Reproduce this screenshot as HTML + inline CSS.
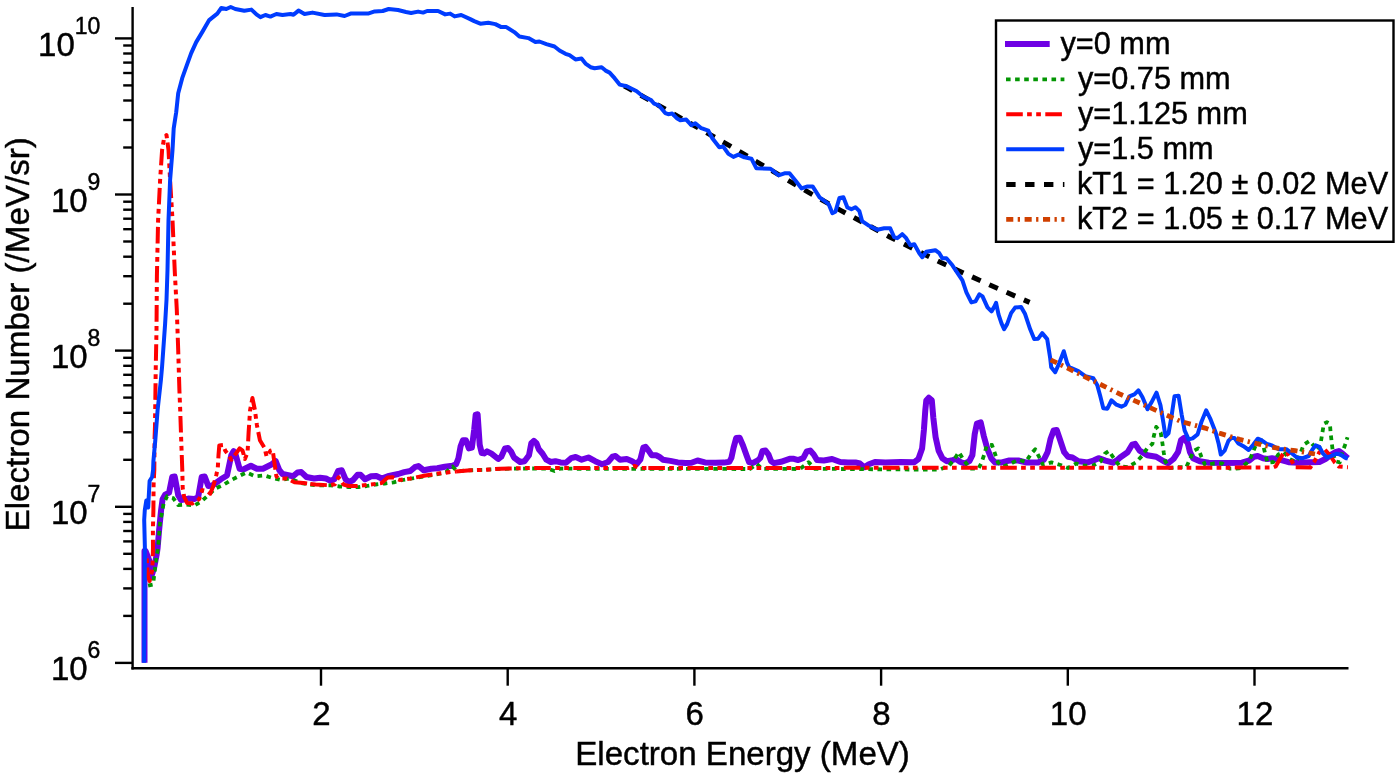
<!DOCTYPE html>
<html><head><meta charset="utf-8"><title>Electron spectrum</title>
<style>html,body{margin:0;padding:0;background:#fff;}svg{display:block;will-change:transform;}text{font-family:"Liberation Sans",sans-serif;fill:#000;stroke:#000;stroke-width:0.45px;}</style>
</head><body>
<svg width="1400" height="778" viewBox="0 0 1400 778">
<rect width="1400" height="778" fill="#ffffff"/>
<polyline fill="none" stroke="#000000" stroke-width="5" stroke-linejoin="round" stroke-dasharray="9.4 9.5" stroke-dashoffset="14.6" points="620.5,84.0 628.1,88.1 730.4,146.2 808.6,192.4 840.1,210.1 890.2,237.2 940.3,262.3 990.5,285.3 1029.6,302.4"/>
<polyline fill="none" stroke="#6E00E4" stroke-width="6" stroke-linejoin="round" stroke-linecap="butt" points="144.5,662.7 144.5,551.0 145.6,551.0 149.1,560.0 151.1,577.1 154.1,568.0 156.6,555.0 157.6,548.0 159.1,530.2 161.1,510.1 162.6,499.1 165.1,494.6 169.1,492.6 172.2,477.0 174.7,476.5 178.2,495.1 181.2,500.1 188.2,498.6 194.2,499.1 198.2,497.1 201.7,477.0 204.7,476.5 208.3,486.0 212.3,485.5 220.8,479.3 227.0,475.5 231.3,455.2 233.6,451.1 235.8,455.2 239.6,468.7 243.3,469.5 250.9,465.7 256.9,468.7 262.9,468.7 271.9,464.2 275.7,461.2 279.4,470.3 282.5,474.0 293.0,476.3 297.5,472.5 301.3,472.1 306.5,477.0 314.0,478.5 320.1,477.8 326.0,478.5 330.5,480.8 334.3,479.3 338.1,471.0 341.8,470.3 345.6,479.3 349.3,482.0 353.1,480.0 357.6,474.8 360.6,474.8 365.1,479.3 371.1,476.3 376.4,476.0 381.7,478.5 387.7,476.3 398.2,474.0 404.2,472.1 410.3,471.0 414.8,467.2 418.5,466.0 423.8,470.3 431.3,468.7 437.3,468.3 444.8,466.8 452.4,465.7 456.1,464.2 458.4,458.2 460.6,446.2 462.9,440.2 465.9,440.2 468.9,448.4 471.9,447.7 474.2,429.6 475.7,414.6 477.6,414.3 479.7,444.7 481.7,453.0 484.0,453.4 487.0,451.4 491.5,453.7 498.2,459.0 501.3,456.7 505.0,448.4 508.0,448.0 511.0,451.4 514.0,457.5 520.1,462.0 524.5,461.2 529.0,455.2 531.3,443.2 533.8,440.9 536.5,443.2 538.8,449.2 542.6,453.7 546.3,459.7 550.8,462.0 555.4,461.2 560.6,462.4 565.9,462.7 571.1,458.2 575.7,457.0 581.7,459.7 588.4,457.5 595.2,461.2 602.0,464.2 608.0,462.0 612.5,456.7 615.5,456.0 620.0,459.7 626.8,459.0 632.1,461.2 636.6,464.2 640.3,459.7 643.3,447.7 645.6,446.9 648.6,450.7 651.6,455.2 656.1,455.2 659.1,456.7 662.9,459.7 670.4,460.9 677.9,462.4 685.5,463.0 691.5,462.7 697.5,460.5 705.0,462.4 715.5,462.7 724.1,462.6 729.3,461.8 731.4,457.9 733.6,447.6 736.2,438.1 739.6,437.7 743.1,445.8 746.5,455.3 749.1,462.2 752.5,463.1 757.7,460.5 760.3,457.9 762.4,451.0 765.5,450.6 768.5,454.5 771.1,461.3 774.1,463.1 781.0,461.8 789.6,458.8 793.9,458.8 798.2,460.1 803.4,457.9 806.8,451.4 810.2,450.6 813.7,454.5 817.1,460.1 823.8,460.5 832.1,459.0 840.3,462.0 847.9,462.4 855.4,462.4 859.9,463.5 864.4,467.2 868.9,464.2 874.9,462.0 885.5,462.4 900.5,462.0 914.0,462.3 918.4,459.0 922.1,448.5 923.9,430.0 925.3,410.1 926.3,400.5 928.8,397.7 931.8,400.3 933.3,417.6 935.6,437.2 938.6,450.7 942.3,458.2 946.9,461.2 951.4,460.5 955.9,459.0 960.4,462.0 964.9,463.5 969.4,461.2 972.4,455.2 974.7,434.2 976.9,423.6 980.7,422.4 983.7,435.7 987.5,449.2 991.2,458.2 995.0,462.4 1001.8,462.4 1009.3,460.5 1018.3,460.5 1025.8,462.4 1037.9,462.4 1043.9,459.7 1047.6,452.2 1050.6,438.7 1053.7,430.4 1056.7,429.9 1059.7,438.7 1064.2,452.2 1067.9,456.7 1072.5,457.5 1078.5,461.2 1087.5,462.4 1093.5,460.5 1098.5,458.2 1105.5,460.7 1113.1,462.7 1117.6,459.7 1120.1,457.5 1127.6,452.2 1132.1,444.7 1135.1,443.9 1139.6,450.7 1147.2,455.2 1156.2,456.7 1163.7,461.2 1168.2,463.2 1173.5,459.0 1178.0,452.2 1181.0,440.2 1184.0,437.9 1187.8,443.2 1190.0,452.2 1193.0,458.2 1199.8,461.2 1208.8,462.7 1225.4,463.0 1241.9,462.7 1249.4,460.5 1254.0,456.7 1257.7,456.0 1263.0,458.2 1267.5,459.0 1272.0,458.2 1279.5,459.7 1288.6,462.2 1298.3,462.7 1310.3,462.3 1319.4,462.0 1325.4,459.0 1331.4,454.5 1335.2,452.2 1338.9,451.1 1342.7,453.7 1347.9,458.2"/>
<polyline fill="none" stroke="#039603" stroke-width="3.8" stroke-linejoin="round" stroke-dasharray="4.6 4.5" points="148.1,585.6 153.1,584.6 154.1,576.1 156.0,560.0 158.1,548.0 160.1,522.2 162.1,512.1 163.6,503.6 167.1,496.3 173.2,498.1 178.2,505.1 186.2,504.6 194.2,505.6 201.7,501.1 208.3,495.1 215.3,488.6 223.3,485.0 230.3,480.5 238.3,476.5 246.4,472.5 255.4,476.3 264.4,475.5 271.9,477.8 281.0,480.0 290.0,478.5 300.5,483.0 315.5,485.3 330.5,485.3 339.6,486.5 348.6,487.1 358.4,487.1 366.6,486.0 375.7,484.5 384.7,483.5 393.7,482.3 402.7,480.0 411.8,478.5 425.3,476.3 438.8,474.0 446.4,471.8 452.4,466.5 457.0,471.2 470.4,470.3 485.5,469.8 500.5,468.9 515.5,468.6 530.0,468.5 548.0,468.7 554.6,471.0 560.0,468.7 750.0,469.0 756.8,463.9 762.0,468.8 800.0,469.0 808.5,462.2 815.0,468.8 910.0,469.5 940.1,469.5 949.1,465.7 954.4,459.0 958.9,452.2 963.4,459.7 970.2,468.7 978.4,468.7 981.5,462.7 984.5,453.7 986.7,445.4 992.0,445.0 995.0,453.7 998.0,462.7 1003.3,466.5 1010.8,463.5 1018.3,459.7 1025.8,462.0 1031.1,453.7 1035.2,449.2 1039.4,457.5 1043.1,465.0 1051.4,462.4 1060.4,465.0 1067.9,468.0 1076.2,463.5 1084.5,465.7 1092.8,465.7 1100.4,461.6 1104.9,453.7 1109.0,451.0 1111.8,455.2 1114.7,459.4 1119.6,466.0 1127.6,467.2 1135.9,462.4 1141.9,456.0 1147.2,448.4 1152.4,443.9 1153.9,435.7 1156.2,426.9 1160.7,432.6 1162.2,441.7 1163.7,452.2 1165.2,461.2 1169.7,468.0 1177.2,467.2 1186.3,467.2 1190.0,459.0 1193.8,450.7 1198.3,448.4 1201.3,456.7 1205.1,465.0 1213.3,463.5 1222.4,463.5 1229.9,468.7 1238.9,468.4 1246.4,463.5 1251.0,456.7 1254.7,447.7 1259.6,436.4 1263.0,444.7 1265.2,453.7 1267.5,462.7 1273.5,462.0 1278.3,454.5 1284.0,452.2 1289.7,459.0 1296.0,462.0 1300.6,453.0 1303.6,444.7 1309.6,440.9 1314.9,447.0 1318.0,450.0 1320.9,441.7 1322.4,432.6 1323.9,423.6 1326.9,422.1 1329.9,423.6 1330.6,432.6 1331.7,442.4 1332.9,452.2 1335.2,461.2 1339.7,462.4 1341.9,453.7 1344.9,445.4 1347.5,437.2"/>
<polyline fill="none" stroke="#FF0000" stroke-width="4" stroke-linejoin="round" stroke-dasharray="16.6 4.3 4.7 4.4 4.7 4.4" stroke-dashoffset="27.6" points="146.6,556.0 147.1,564.1 147.6,575.1 149.6,581.1 151.9,571.6 152.6,562.6 153.0,548.0 152.9,530.2 153.4,510.1 153.6,484.0 154.3,470.0 154.6,437.2 155.0,426.0 155.7,370.3 156.5,330.0 156.9,276.0 158.1,220.3 160.1,180.2 162.1,150.0 164.1,138.0 166.5,135.0 168.5,150.0 170.1,180.0 172.5,220.0 174.8,272.0 176.8,310.0 178.2,350.0 179.4,390.0 180.2,410.0 181.2,440.2 182.3,470.0 182.7,488.1 184.2,497.1 187.2,503.1 192.2,503.6 199.2,499.1 202.2,490.1 207.3,491.1 210.3,493.6 213.3,486.0 216.3,475.0 217.8,468.0 218.5,455.2 219.3,445.4 223.0,445.0 225.3,450.7 228.3,454.5 231.3,459.7 235.8,453.7 239.6,448.4 242.6,450.7 244.9,459.0 247.6,452.2 248.6,432.6 250.1,410.1 252.4,398.0 254.9,410.0 256.9,425.1 259.9,440.2 264.4,447.7 266.7,456.7 270.4,450.7 272.7,450.0 274.2,461.2 276.4,476.3 279.4,478.5 287.0,478.5 294.5,482.3 303.5,483.0 310.3,483.9"/>
<polyline fill="none" stroke="#FF0000" stroke-width="4" stroke-linejoin="round" stroke-dasharray="16.6 4.3 4.7 4.4 4.7 4.4" points="310.3,483.9 315.5,484.5 330.0,485.3 334.8,484.3 338.6,477.3 343.6,484.6 348.6,486.0 357.6,486.0 371.1,484.5 381.7,483.0 387.7,477.4 392.2,477.2 399.7,480.0 410.3,478.5 425.3,475.5 440.3,473.3 455.4,471.5 456.1,471.4"/>
<polyline fill="none" stroke="#FF0000" stroke-width="4" stroke-linejoin="round" stroke-dasharray="16.6 4.3 4.7 4.4 4.7 4.4" points="456.1,471.4 470.4,470.3 485.5,469.8 500.5,468.7 515.5,468.3 530.0,468.0 628.0,468.0 634.3,466.0 640.0,468.0 648.3,468.0"/>
<polyline fill="none" stroke="#FF0000" stroke-width="4" stroke-linejoin="round" stroke-dasharray="16.6 4.3 4.7 4.4 4.7 4.4" points="648.3,468.0 1273.0,467.6 1275.7,466.5 1280.3,458.2 1284.0,452.2 1287.0,452.2 1292.3,462.0 1295.3,467.2 1310.3,467.5 1314.1,462.0 1319.4,452.2 1324.6,449.2 1329.9,455.2 1334.4,462.0 1338.9,466.5 1347.9,467.2"/>
<polyline fill="none" stroke="#003CFF" stroke-width="4" stroke-linejoin="round" points="144.1,662.7 144.9,548.0 144.2,520.0 144.8,510.0 146.3,500.5 148.2,507.5 148.6,499.0 149.6,481.0 152.1,477.0 153.1,470.0 153.4,461.2 155.3,440.2 157.6,410.1 160.9,380.0 162.1,366.3 165.1,324.0 166.5,300.0 167.5,270.0 168.5,220.3 170.1,180.2 172.5,150.1 173.7,128.4 176.2,112.3 178.2,93.3 182.2,78.2 187.2,64.2 191.2,53.1 196.2,42.1 202.2,32.1 209.2,20.1 217.3,13.6 221.3,8.0 226.3,9.0 230.7,7.0 235.3,9.0 244.3,10.8 251.4,9.6 256.4,14.4 260.4,17.2 265.4,15.0 270.4,16.6 276.4,14.0 282.5,15.0 290.5,14.0 293.5,14.8 298.5,10.6 304.5,14.0 312.5,12.6 324.6,15.0 336.6,14.4 344.6,16.0 350.6,13.6 368.7,13.4 374.7,11.4 382.7,11.0 388.7,9.0 398.0,10.0 406.0,12.0 411.1,13.0 418.1,11.6 423.1,12.6 427.1,11.0 438.1,11.0 445.2,14.4 450.2,13.6 454.6,16.4 461.2,15.0 470.2,19.1 474.2,21.1 480.3,23.7 488.3,22.7 495.3,24.1 501.3,27.1 506.3,27.1 514.3,32.1 519.4,36.5 528.4,38.1 535.4,42.1 539.4,41.5 546.4,44.1 554.5,46.5 559.5,50.5 565.5,53.8 569.5,55.2 575.5,59.4 581.5,58.6 585.5,63.6 590.6,67.2 594.6,68.2 601.6,67.2 605.6,70.6 609.6,72.6 614.6,78.2 619.6,84.6 626.7,86.2 636.7,91.3 643.1,96.5 651.1,100.1 654.2,103.7 659.2,105.7 665.2,113.1 668.2,114.2 672.2,113.6 677.2,118.6 680.2,120.2 686.2,119.6 691.3,125.2 695.3,123.2 701.3,128.2 708.3,130.6 712.3,138.2 719.3,147.2 723.3,146.6 728.4,153.9 733.4,156.9 738.4,154.7 744.4,157.3 751.4,158.7 756.4,168.3 770.5,168.7 778.5,175.3 784.5,173.3 789.5,173.3 795.6,180.7 801.6,188.4 807.6,186.4 812.6,186.4 819.6,197.4 828.6,204.0 832.4,213.2 835.4,211.8 839.4,198.0 843.4,197.2 847.4,207.5 851.4,209.2 855.4,207.2 859.4,211.2 862.1,221.1 868.1,225.2 877.2,229.8 884.2,228.2 890.2,228.2 894.2,237.2 897.2,238.2 902.2,234.2 906.2,238.2 910.3,245.2 914.3,244.2 919.3,253.2 922.3,257.2 926.3,251.8 935.3,250.2 939.3,253.2 942.3,258.2 946.4,258.2 952.4,265.3 958.4,274.3 962.4,280.3 966.4,292.3 971.4,302.4 975.4,301.4 979.4,294.3 982.5,296.4 987.5,307.4 991.5,311.4 994.5,306.4 996.1,302.8 998.5,314.4 1001.5,323.4 1004.1,329.1 1007.1,324.1 1011.1,313.1 1015.1,307.6 1021.1,307.0 1025.1,314.1 1030.1,329.1 1034.2,339.1 1038.2,338.7 1042.2,333.1 1047.2,339.1 1050.2,358.2 1051.2,367.2 1055.2,372.2 1059.2,363.2 1063.8,351.2 1067.2,363.2 1069.2,367.2 1078.3,371.2 1085.3,376.2 1093.3,378.2 1097.3,385.3 1100.3,396.3 1103.3,408.3 1107.4,408.7 1111.4,400.3 1116.4,404.7 1121.4,406.7 1125.4,404.7 1129.4,396.3 1134.4,394.3 1138.4,390.3 1142.5,397.3 1147.5,409.3 1151.5,402.3 1156.5,392.7 1160.5,405.3 1163.5,423.4 1165.5,436.4 1168.5,433.4 1171.5,416.4 1174.5,396.3 1178.6,395.7 1181.6,414.3 1184.6,430.4 1188.6,439.4 1192.6,438.4 1197.6,434.4 1201.6,421.4 1206.2,410.3 1210.6,419.4 1215.7,432.4 1218.7,444.0 1220.8,454.5 1224.6,450.7 1228.4,440.9 1231.4,437.9 1234.4,437.9 1238.1,443.2 1243.4,446.2 1248.7,450.0 1253.2,444.7 1257.7,438.7 1261.4,440.2 1266.7,443.9 1272.0,445.4 1278.7,449.2 1286.3,449.2 1292.3,453.7 1296.8,457.5 1302.8,458.2 1308.8,456.0 1312.6,449.2 1315.6,445.4 1319.4,446.9 1323.1,453.7 1326.9,457.5 1331.4,456.0 1336.7,453.7 1340.4,454.5 1344.9,457.5 1347.9,458.5"/>
<polyline fill="none" stroke="#D04000" stroke-width="4.8" stroke-linejoin="round" stroke-dasharray="7.1 4.4 2.3 4.6" points="1050.6,359.8 1120.4,394.3 1180.6,421.4 1205.0,428.1 1220.1,433.4 1239.6,439.4 1257.7,443.9 1274.2,447.7 1295.3,450.7 1315.0,454.0"/>
<g stroke="#000" stroke-width="2.4" fill="none" stroke-linecap="butt">
<line x1="132.6" y1="7" x2="132.6" y2="669.4"/>
<line x1="131.4" y1="668.2" x2="1348.5" y2="668.2"/>
<line x1="115" y1="662.9" x2="132.6" y2="662.9"/>
<line x1="123.2" y1="615.9" x2="132.6" y2="615.9"/>
<line x1="123.2" y1="588.4" x2="132.6" y2="588.4"/>
<line x1="123.2" y1="568.9" x2="132.6" y2="568.9"/>
<line x1="123.2" y1="553.8" x2="132.6" y2="553.8"/>
<line x1="123.2" y1="541.4" x2="132.6" y2="541.4"/>
<line x1="123.2" y1="531.0" x2="132.6" y2="531.0"/>
<line x1="123.2" y1="521.9" x2="132.6" y2="521.9"/>
<line x1="123.2" y1="513.9" x2="132.6" y2="513.9"/>
<line x1="115" y1="506.8" x2="132.6" y2="506.8"/>
<line x1="123.2" y1="459.8" x2="132.6" y2="459.8"/>
<line x1="123.2" y1="432.3" x2="132.6" y2="432.3"/>
<line x1="123.2" y1="412.8" x2="132.6" y2="412.8"/>
<line x1="123.2" y1="397.6" x2="132.6" y2="397.6"/>
<line x1="123.2" y1="385.3" x2="132.6" y2="385.3"/>
<line x1="123.2" y1="374.8" x2="132.6" y2="374.8"/>
<line x1="123.2" y1="365.8" x2="132.6" y2="365.8"/>
<line x1="123.2" y1="357.8" x2="132.6" y2="357.8"/>
<line x1="115" y1="350.6" x2="132.6" y2="350.6"/>
<line x1="123.2" y1="303.7" x2="132.6" y2="303.7"/>
<line x1="123.2" y1="276.2" x2="132.6" y2="276.2"/>
<line x1="123.2" y1="256.7" x2="132.6" y2="256.7"/>
<line x1="123.2" y1="241.5" x2="132.6" y2="241.5"/>
<line x1="123.2" y1="229.2" x2="132.6" y2="229.2"/>
<line x1="123.2" y1="218.7" x2="132.6" y2="218.7"/>
<line x1="123.2" y1="209.7" x2="132.6" y2="209.7"/>
<line x1="123.2" y1="201.7" x2="132.6" y2="201.7"/>
<line x1="115" y1="194.5" x2="132.6" y2="194.5"/>
<line x1="123.2" y1="147.5" x2="132.6" y2="147.5"/>
<line x1="123.2" y1="120.0" x2="132.6" y2="120.0"/>
<line x1="123.2" y1="100.5" x2="132.6" y2="100.5"/>
<line x1="123.2" y1="85.4" x2="132.6" y2="85.4"/>
<line x1="123.2" y1="73.0" x2="132.6" y2="73.0"/>
<line x1="123.2" y1="62.6" x2="132.6" y2="62.6"/>
<line x1="123.2" y1="53.5" x2="132.6" y2="53.5"/>
<line x1="123.2" y1="45.5" x2="132.6" y2="45.5"/>
<line x1="115" y1="38.4" x2="132.6" y2="38.4"/>
<line x1="321.0" y1="668.2" x2="321.0" y2="685.7"/>
<line x1="507.7" y1="668.2" x2="507.7" y2="685.7"/>
<line x1="694.4" y1="668.2" x2="694.4" y2="685.7"/>
<line x1="881.1" y1="668.2" x2="881.1" y2="685.7"/>
<line x1="1067.8" y1="668.2" x2="1067.8" y2="685.7"/>
<line x1="1254.5" y1="668.2" x2="1254.5" y2="685.7"/>
</g>
<text x="321.4" y="724.7" font-size="33" text-anchor="middle">2</text>
<text x="508.1" y="724.7" font-size="33" text-anchor="middle">4</text>
<text x="694.8" y="724.7" font-size="33" text-anchor="middle">6</text>
<text x="881.5" y="724.7" font-size="33" text-anchor="middle">8</text>
<text x="1068.2" y="724.7" font-size="33" text-anchor="middle">10</text>
<text x="1254.9" y="724.7" font-size="33" text-anchor="middle">12</text>
<text x="100.4" y="680.3" font-size="33" text-anchor="end">10<tspan dy="-22" font-size="23">6</tspan></text>
<text x="100.4" y="524.2" font-size="33" text-anchor="end">10<tspan dy="-22" font-size="23">7</tspan></text>
<text x="100.4" y="368.0" font-size="33" text-anchor="end">10<tspan dy="-22" font-size="23">8</tspan></text>
<text x="100.4" y="211.9" font-size="33" text-anchor="end">10<tspan dy="-22" font-size="23">9</tspan></text>
<text x="100.4" y="55.8" font-size="33" text-anchor="end">10<tspan dy="-22" font-size="23">10</tspan></text>
<text x="742.6" y="765.4" font-size="33.1" text-anchor="middle">Electron Energy (MeV)</text>
<text transform="translate(29.4,334.3) rotate(-90)" font-size="33.17" text-anchor="middle">Electron Number (/MeV/sr)</text>
<rect x="996" y="20.5" width="397.5" height="221.3" fill="#fff" stroke="#000" stroke-width="2.4"/>
<line x1="1005" y1="44.1" x2="1049.7" y2="44.1" stroke="#6E00E4" stroke-width="6"/>
<line x1="1006" y1="79.3" x2="1064.4" y2="79.3" stroke="#039603" stroke-width="3.8" stroke-dasharray="4.6 4.5"/>
<line x1="1006.2" y1="114.3" x2="1062" y2="114.3" stroke="#FF0000" stroke-width="4" stroke-dasharray="16.6 4.3 4.7 4.4 4.7 4.4"/>
<line x1="1006.2" y1="149.2" x2="1064.2" y2="149.2" stroke="#003CFF" stroke-width="4"/>
<line x1="1006.2" y1="184.4" x2="1064.4" y2="184.4" stroke="#000" stroke-width="5" stroke-dasharray="9.4 9.5"/>
<line x1="1006.2" y1="219.4" x2="1064.4" y2="219.4" stroke="#D04000" stroke-width="4.8" stroke-dasharray="7.1 4.4 2.3 4.6"/>
<text x="1060.5" y="53.8" font-size="30.7">y=0 mm</text>
<text x="1078" y="89.0" font-size="30.7">y=0.75 mm</text>
<text x="1078" y="124.0" font-size="30.7">y=1.125 mm</text>
<text x="1078" y="158.9" font-size="30.7">y=1.5 mm</text>
<text x="1077" y="194.1" font-size="30.7">kT1 = 1.20 ± 0.02 MeV</text>
<text x="1077" y="229.1" font-size="30.7">kT2 = 1.05 ± 0.17 MeV</text>
</svg>
</body></html>
